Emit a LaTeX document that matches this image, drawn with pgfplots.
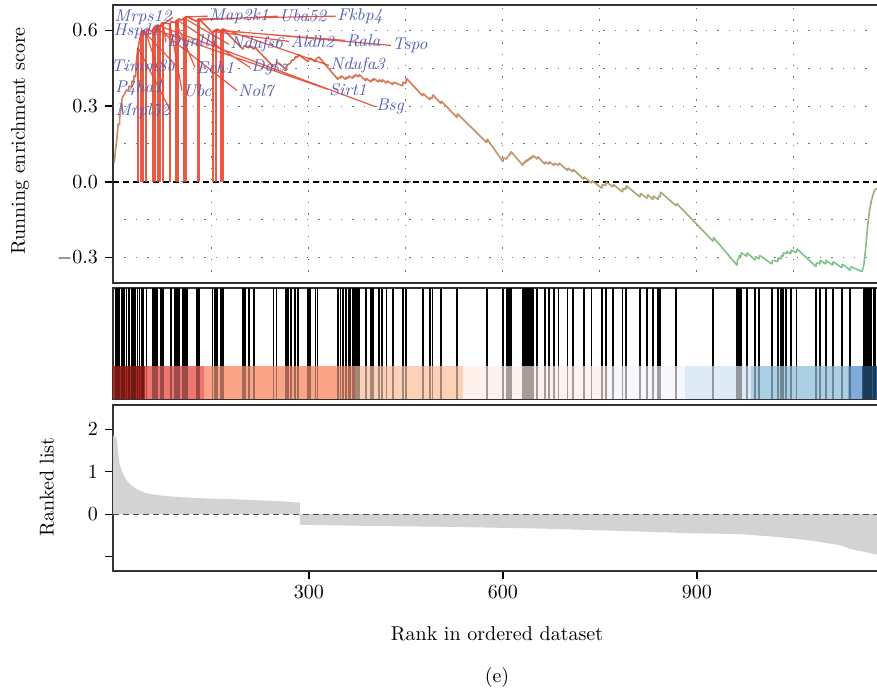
\documentclass[border=0pt]{standalone}
\usepackage{pgfplots}
\usepackage{pgfplotstable}
\pgfplotsset{compat=1.18}
\definecolor{lab}{RGB}{85,95,180}
\definecolor{hl}{RGB}{232,70,50}
\definecolor{b1}{RGB}{176,40,32}
\definecolor{b2}{RGB}{240,116,112}
\definecolor{b3}{RGB}{252,164,135}
\definecolor{b4}{RGB}{253,208,184}
\definecolor{b5}{RGB}{255,242,236}
\definecolor{b6}{RGB}{247,247,253}
\definecolor{b7}{RGB}{222,235,247}
\definecolor{b8}{RGB}{171,208,230}
\definecolor{b9}{RGB}{127,172,214}
\definecolor{b10}{RGB}{43,92,138}
\definecolor{rk}{RGB}{211,211,211}
\pgfplotsset{colormap={es}{rgb255(0cm)=(120,200,140); rgb255(7cm)=(180,160,110); rgb255(14cm)=(215,125,90); rgb255(20cm)=(230,80,60)}}

\pgfplotstableread[row sep=\\]{
r es\\
-1 0.075\\ 1 0.13\\ 3 0.17\\ 5 0.23\\ 7 0.225\\ 7.5 0.26\\ 10 0.30\\ 11 0.33\\ 13 0.34\\ 15 0.35\\
18 0.365\\ 21 0.36\\ 21.6 0.38\\ 26 0.375\\ 26.3 0.40\\ 29 0.395\\ 29.4 0.42\\ 32 0.415\\ 32.5 0.46\\
35 0.52\\ 38 0.56\\ 41 0.59\\ 43 0.60\\ 49 0.59\\ 49.5 0.605\\ 58 0.595\\ 58.8 0.605\\ 62 0.615\\
65 0.62\\ 70 0.615\\ 71 0.625\\ 74 0.63\\ 86 0.625\\ 86.6 0.635\\ 93 0.63\\ 93.5 0.635\\ 96 0.64\\
99 0.645\\ 104 0.64\\ 105 0.645\\ 108 0.65\\ 111 0.655\\ 126 0.635\\ 127 0.64\\ 130 0.645\\
151 0.59\\ 151.5 0.595\\ 155 0.60\\ 158 0.605\\ 163.5 0.595\\ 164 0.60\\ 167 0.605\\
198 0.525\\ 198.5 0.535\\ 201 0.54\\ 207 0.53\\ 207.5 0.54\\ 215 0.525\\ 215.5 0.535\\
245 0.455\\ 245.5 0.465\\ 250 0.465\\ 250.5 0.475\\ 265 0.445\\ 265.5 0.46\\ 268 0.465\\
272 0.47\\ 272.5 0.48\\ 278 0.485\\ 278.5 0.495\\ 283 0.495\\ 283.5 0.505\\ 299 0.475\\ 299.5 0.485\\
302 0.49\\ 310 0.475\\ 310.5 0.485\\ 313 0.49\\ 315 0.495\\ 345 0.405\\ 345.5 0.415\\ 349 0.41\\
349.5 0.42\\ 357 0.405\\ 357.5 0.415\\ 361 0.41\\ 361.5 0.42\\ 364 0.415\\ 368 0.41\\ 368.5 0.42\\
371 0.415\\ 371.5 0.425\\ 374 0.42\\ 377 0.415\\ 377.5 0.425\\ 388 0.40\\ 388.5 0.41\\
396 0.395\\ 396.5 0.405\\ 399 0.40\\ 399.5 0.41\\ 408 0.395\\ 408.5 0.405\\ 413 0.395\\ 413.5 0.405\\
420 0.39\\ 420.5 0.40\\ 430 0.385\\ 430.5 0.395\\ 445 0.38\\ 445.5 0.395\\ 450 0.39\\ 450.5 0.41\\
476 0.34\\ 476.5 0.35\\ 487 0.325\\ 487.5 0.335\\ 491 0.33\\ 491.5 0.345\\ 504 0.31\\ 504.5 0.32\\
529 0.255\\ 529.5 0.27\\ 575 0.155\\ 575.5 0.17\\ 600 0.08\\ 600.5 0.095\\ 606 0.09\\ 606.5 0.10\\
609 0.10\\ 609.5 0.11\\ 612 0.11\\ 612.5 0.12\\ 631 0.065\\ 631.5 0.075\\ 634 0.075\\ 634.5 0.085\\
637 0.08\\ 637.5 0.09\\ 640 0.085\\ 640.5 0.095\\ 643 0.09\\ 643.5 0.10\\ 646 0.095\\ 646.5 0.105\\
653 0.09\\ 653.5 0.10\\ 665 0.07\\ 665.5 0.08\\ 671 0.07\\ 671.5 0.08\\ 679 0.065\\ 679.5 0.075\\
686 0.065\\ 686.5 0.075\\ 700 0.045\\ 700.5 0.055\\ 708 0.04\\ 708.5 0.05\\ 725 0.01\\ 725.5 0.02\\
737 -0.005\\ 737.5 0.005\\ 753 -0.025\\ 753.5 -0.01\\ 759 -0.015\\ 759.5 0.0\\ 770 -0.02\\ 770.5 -0.01\\
785 -0.04\\ 785.5 -0.025\\ 790 -0.03\\ 790.5 -0.015\\ 812 -0.06\\ 812.5 -0.045\\ 823 -0.065\\ 823.5 -0.05\\
832 -0.07\\ 832.5 -0.055\\ 840 -0.07\\ 840.5 -0.055\\ 843 -0.06\\ 843.5 -0.04\\ 868 -0.095\\ 868.5 -0.085\\
925 -0.235\\ 925.5 -0.22\\ 962 -0.33\\ 962.5 -0.31\\ 965 -0.30\\ 965.5 -0.29\\ 968 -0.295\\ 968.5 -0.28\\
977 -0.295\\ 977.5 -0.28\\ 990 -0.31\\ 990.5 -0.295\\ 996 -0.305\\ 996.5 -0.29\\ 1016 -0.325\\ 1016.5 -0.31\\
1025 -0.315\\ 1025.5 -0.30\\ 1030 -0.305\\ 1030.5 -0.29\\ 1033 -0.295\\ 1033.5 -0.28\\ 1038 -0.285\\ 1038.5 -0.275\\
1045 -0.285\\ 1045.5 -0.27\\ 1054 -0.28\\ 1054.5 -0.265\\ 1084 -0.335\\ 1084.5 -0.32\\ 1090 -0.325\\ 1090.5 -0.31\\
1099 -0.325\\ 1099.5 -0.31\\ 1110 -0.33\\ 1110.5 -0.315\\ 1124 -0.34\\ 1124.5 -0.325\\ 1137 -0.35\\ 1137.5 -0.335\\
1155 -0.355\\ 1158 -0.33\\ 1161 -0.26\\ 1164 -0.17\\ 1167 -0.11\\ 1170 -0.07\\ 1173 -0.045\\ 1175 -0.03\\ 1180 -0.025\\
}\escurve

\pgfplotstableread[row sep=\\]{
r t b\\
1 1 .3\\ 3 1 .3\\ 5 1 .3\\ 7 1 .3\\ 11 1 .3\\ 13 1 .3\\ 15 1 .3\\ 18 1 .3\\ 22 1 .3\\ 26 1 .3\\
29 1 .3\\ 32 1 .3\\ 35 1 .3\\ 38 1 .3\\ 41 1 .3\\ 43 1 .3\\ 49 1 .3\\ 59 1 .3\\ 62 1 .3\\ 65 1 .3\\
71 1 .3\\ 74 1 .3\\ 87 1 .3\\ 93 1 .3\\ 96 1 .3\\ 99 1 .3\\ 105 1 .3\\ 108 1 .3\\ 111 1 .3\\ 127 1 .3\\
130 1 .3\\ 151 1 .3\\ 155 1 .3\\ 158 1 .3\\ 164 1 .3\\ 167 1 .3\\ 198 1 .3\\ 201 1 .3\\ 207 1 .3\\ 215 1 .3\\
245 1 .3\\ 250 1 .3\\ 265 1 .3\\ 268 1 .3\\ 272 1 .3\\ 278 1 .3\\ 283 1 .3\\ 299 1 .3\\ 302 1 .3\\ 310 1 .3\\
313 1 .3\\ 345 1 .3\\ 349 1 .3\\ 353 1 .3\\ 357 1 .3\\ 361 1 .3\\ 364 1 .3\\ 368 1 .3\\ 371 1 .3\\ 374 1 .3\\
377 1 .3\\ 388 1 .3\\ 396 1 .3\\ 399 1 .3\\ 408 1 .3\\ 413 1 .3\\ 420 1 .3\\ 430 1 .3\\ 445 1 .3\\ 450 1 .3\\
476 1 .3\\ 487 1 .3\\ 491 1 .3\\ 504 1 .3\\ 529 1 .3\\ 575 1 .3\\ 600 1 .3\\ 606 1 .3\\ 609 1 .3\\ 612 1 .3\\
631 1 .3\\ 634 1 .3\\ 637 1 .3\\ 640 1 .3\\ 643 1 .3\\ 646 1 .3\\ 653 1 .3\\ 665 1 .3\\ 671 1 .3\\ 679 1 .3\\
686 1 .3\\ 700 1 .3\\ 708 1 .3\\ 725 1 .3\\ 737 1 .3\\ 753 1 .3\\ 759 1 .3\\ 770 1 .3\\ 785 1 .3\\ 790 1 .3\\
812 1 .3\\ 823 1 .3\\ 832 1 .3\\ 840 1 .3\\ 843 1 .3\\ 868 1 .3\\ 925 1 .3\\ 962 1 .3\\ 965 1 .3\\ 968 1 .3\\
977 1 .3\\ 990 1 .3\\ 996 1 .3\\ 1016 1 .3\\ 1025 1 .3\\ 1030 1 .3\\ 1033 1 .3\\ 1038 1 .3\\ 1045 1 .3\\ 1054 1 .3\\
1084 1 .3\\ 1090 1 .3\\ 1099 1 .3\\ 1110 1 .3\\ 1124 1 .3\\ 1137 1 .3\\ 1158 1 .3\\ 1161 1 .3\\ 1164 1 .3\\ 1167 1 .3\\
1170 1 .3\\ 1173 1 .3\\ 1175 1 .3\\
}\hits

\begin{document}
\begin{tikzpicture}[x=1pt,y=1pt]
\useasboundingbox (0,0) rectangle (438.5,345);
\pgfplotsset{every axis/.append style={scale only axis, width=383.5pt, xmin=-3, xmax=1183,
  axis line style={black!80, line width=0.6pt}, tick style={black, line width=0.6pt},
  tick align=outside, major tick length=4pt, no markers,
  tick label style={font=\fontsize{10}{12}\selectfont}}}

% ---------- top panel ----------
\begin{axis}[at={(56.5pt,203.5pt)}, anchor=south west, height=139pt,
  ymin=-0.40, ymax=0.70, ytick={-0.3,0,0.3,0.6}, yticklabels={$-0.3$,0.0,0.3,0.6},
  minor ytick={-0.15,0.15,0.45}, xtick={300,600,900}, minor xtick={150,450,750,1050},
  xticklabels={}, xtick style={draw=none}, minor tick length=0pt, ytick pos=left,
  grid=both, grid style={black!55, dash pattern=on 0.7pt off 5pt, line width=0.5pt},
  point meta min=-0.35, point meta max=0.65, colormap name=es]
\addplot[black, line width=0.6pt, dash pattern=on 3pt off 2pt] coordinates {(-3,0) (1183,0)};
\addplot[mesh, point meta=y, line width=0.8pt] table[x=r,y=es]{\escurve};
\addplot[ycomb, hl, line width=0.9pt, opacity=0.9] coordinates {
(36,0.53) (40,0.58) (43,0.60) (48,0.59) (59,0.605) (62,0.615) (66,0.62) (70,0.615) (74,0.63) (85,0.625)
(94,0.635) (97,0.64) (107,0.648) (110,0.653) (128,0.64) (130,0.645) (152,0.595) (156,0.60) (164,0.60) (167,0.605)};
\addplot[hl, line width=0.6pt, opacity=0.9, unbounded coords=jump] coordinates {
(70,0.615) (89.7,0.652) (nan,nan)
(40,0.58) (71.1,0.596) (nan,nan)
(43,0.60) (94.3,0.461) (nan,nan)
(48,0.59) (75.8,0.370) (nan,nan)
(36,0.53) (86.6,0.278) (nan,nan)
(110,0.653) (143.8,0.656) (nan,nan)
(128,0.64) (252.1,0.656) (nan,nan)
(130,0.645) (341.7,0.656) (nan,nan)
(74,0.63) (78.9,0.552) (nan,nan)
(107,0.648) (176.3,0.544) (nan,nan)
(152,0.595) (269.1,0.556) (nan,nan)
(156,0.60) (355.7,0.560) (nan,nan)
(164,0.60) (426.8,0.540) (nan,nan)
(94,0.635) (123.7,0.453) (nan,nan)
(97,0.64) (208.8,0.453) (nan,nan)
(167,0.605) (330.9,0.461) (nan,nan)
(85,0.625) (103.6,0.362) (nan,nan)
(62,0.615) (188.7,0.362) (nan,nan)
(59,0.605) (329.4,0.366) (nan,nan)
(66,0.62) (402.1,0.298)};
\begin{scope}[every node/.style={text=lab, font=\itshape\fontsize{8.5}{10}\selectfont, inner sep=0.5pt}]
\node[anchor=east] at (axis cs:89.7,0.652) {Mrps12};
\node[anchor=east] at (axis cs:71.1,0.596) {Hspd1};
\node[anchor=east] at (axis cs:94.3,0.461) {Timm8b};
\node[anchor=east] at (axis cs:75.8,0.370) {P4ha1};
\node[anchor=east] at (axis cs:86.6,0.278) {Mrpl52};
\node[anchor=west] at (axis cs:143.8,0.656) {Map2k1};
\node[anchor=west] at (axis cs:252.1,0.656) {Uba52};
\node[anchor=west] at (axis cs:341.7,0.656) {Fkbp4};
\node[anchor=west] at (axis cs:78.9,0.552) {Dynll1};
\node[anchor=west] at (axis cs:176.3,0.544) {Ndufs6};
\node[anchor=west] at (axis cs:269.1,0.556) {Aldh2};
\node[anchor=west] at (axis cs:355.7,0.560) {Rala};
\node[anchor=west] at (axis cs:426.8,0.540) {Tspo};
\node[anchor=west] at (axis cs:123.7,0.453) {Ech1};
\node[anchor=west] at (axis cs:208.8,0.453) {Dgkz};
\node[anchor=west] at (axis cs:330.9,0.461) {Ndufa3};
\node[anchor=west] at (axis cs:103.6,0.362) {Ubc};
\node[anchor=west] at (axis cs:188.7,0.362) {Nol7};
\node[anchor=west] at (axis cs:329.4,0.366) {Sirt1};
\node[anchor=west] at (axis cs:402.1,0.298) {Bsg};
\end{scope}
\end{axis}

% ---------- middle panel ----------
\begin{axis}[at={(56.5pt,145.5pt)}, anchor=south west, height=55.5pt,
  ymin=0, ymax=1, xtick=\empty, ytick=\empty]
\addplot[ycomb, black, line width=0.85pt] table[x=r,y=t]{\hits};
\addplot[draw=none, fill=b1] coordinates {(-3,0.3) (46,0.3)} \closedcycle;
\addplot[draw=none, fill=b2] coordinates {(46,0.3) (138,0.3)} \closedcycle;
\addplot[draw=none, fill=b3] coordinates {(138,0.3) (371,0.3)} \closedcycle;
\addplot[draw=none, fill=b4] coordinates {(371,0.3) (538,0.3)} \closedcycle;
\addplot[draw=none, fill=b5] coordinates {(538,0.3) (763,0.3)} \closedcycle;
\addplot[draw=none, fill=b6] coordinates {(763,0.3) (882,0.3)} \closedcycle;
\addplot[draw=none, fill=b7] coordinates {(882,0.3) (983,0.3)} \closedcycle;
\addplot[draw=none, fill=b8] coordinates {(983,0.3) (1134,0.3)} \closedcycle;
\addplot[draw=none, fill=b9] coordinates {(1134,0.3) (1155,0.3)} \closedcycle;
\addplot[draw=none, fill=b10] coordinates {(1155,0.3) (1183,0.3)} \closedcycle;
\addplot[ycomb, black, opacity=0.35, line width=0.85pt] table[x=r,y=b]{\hits};
\end{axis}

% ---------- bottom panel ----------
\begin{axis}[at={(56.5pt,59.5pt)}, anchor=south west, height=83pt,
  ymin=-1.34, ymax=2.57, xtick={300,600,900}, ytick={-1,0,1,2}, yticklabels={,0,1,2},
  tick pos=left]
\addplot[draw=none, fill=rk] coordinates {
(-3,1.85) (0,1.85) (3,1.75) (5,1.45) (7,1.2) (10,1.05) (13,0.93) (16,0.85) (20,0.76) (24,0.70) (28,0.65)
(35,0.58) (42,0.53) (49,0.49) (60,0.46) (75,0.43) (100,0.40) (140,0.37) (183,0.35) (230,0.32)
(260,0.30) (286,0.27) (286,-0.25) (400,-0.28) (518,-0.30) (657,-0.34) (812,-0.41) (889,-0.45)
(966,-0.47) (1018,-0.53) (1070,-0.61) (1121,-0.73) (1137,-0.82) (1168,-0.92) (1183,-0.97)} \closedcycle;
\addplot[black!70, line width=0.6pt, dash pattern=on 3pt off 2pt] coordinates {(-3,0) (1183,0)};
\end{axis}

\node[rotate=90, font=\fontsize{10}{12}\selectfont] at (10,274.5) {Running enrichment score};
\node[rotate=90, font=\fontsize{10}{12}\selectfont] at (23.5,101.5) {Ranked list};
\node[font=\fontsize{10}{12}\selectfont] at (248.5,28) {Rank in ordered dataset};
\node[font=\fontsize{10}{12}\selectfont] at (248.5,6.5) {(e)};
\end{tikzpicture}
\end{document}
